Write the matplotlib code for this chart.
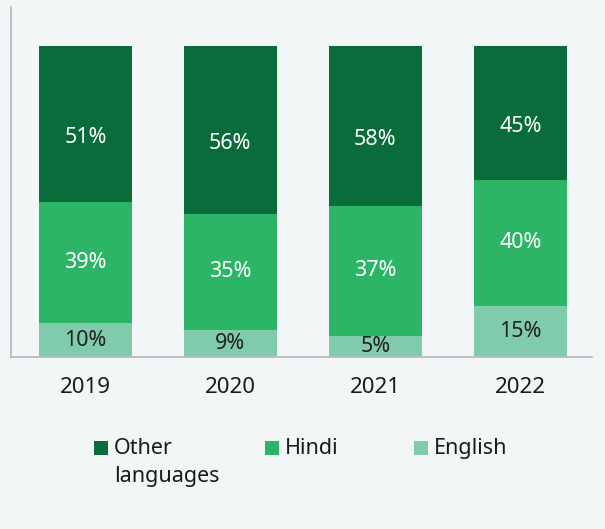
import matplotlib
matplotlib.use("Agg")
import matplotlib.pyplot as plt
from matplotlib.patches import Rectangle

# Data
years = ["2019", "2020", "2021", "2022"]
english = [10.9, 8.7, 6.8, 16.4]
hindi = [38.9, 37.3, 41.8, 40.5]
other = [50.2, 54.0, 51.4, 43.1]
# printed labels (as shown on the chart)
english_lbl = [10, 9, 5, 15]
hindi_lbl = [39, 35, 37, 40]
other_lbl = [51, 56, 58, 45]

series_names = ["Other\nlanguages", "Hindi", "English"]
c_other = "#0a6b3b"
c_hindi = "#2db567"
c_eng = "#7fcbac"
bg = "#f3f6f7"

plt.rcParams["font.family"] = ["Noto Sans", "DejaVu Sans"]

fig = plt.figure(figsize=(6.05, 5.29), dpi=100, facecolor=bg)
ax = fig.add_axes([0.019, 0.325, 0.959, 0.662], facecolor=bg)

x = range(len(years))
w = 0.64
bottom2 = [e + h for e, h in zip(english, hindi)]
ax.bar(x, english, w, color=c_eng)
ax.bar(x, hindi, w, bottom=english, color=c_hindi)
ax.bar(x, other, w, bottom=bottom2, color=c_other)

# Percent labels inside each segment
for i in x:
    ax.text(i, english[i] / 2, f"{english_lbl[i]}%", ha="center", va="center",
            color="#222222", fontsize=15.5)
    ax.text(i, english[i] + hindi[i] / 2, f"{hindi_lbl[i]}%", ha="center", va="center",
            color="white", fontsize=15.5)
    ax.text(i, bottom2[i] + other[i] / 2 - 4.5, f"{other_lbl[i]}%", ha="center", va="center",
            color="white", fontsize=15.5)

ax.set_xlim(-0.51, 3.493)
ax.set_ylim(0, 112.5)
ax.set_xticks(list(x))
ax.set_xticklabels(years, fontsize=16, color="#1a1a1a")
ax.tick_params(axis="x", length=0, pad=14.5)
ax.set_yticks([])
for s in ["top", "right"]:
    ax.spines[s].set_visible(False)
for s in ["left", "bottom"]:
    ax.spines[s].set_color("#b8bcc0")
    ax.spines[s].set_linewidth(1.3)

# Legend drawn by hand to match the column placement
legend_items = [(c_other, series_names[0], 94), (c_hindi, series_names[1], 265),
                (c_eng, series_names[2], 414)]
W, H = 605, 529
for col, name, px in legend_items:
    fig.patches.append(Rectangle((px / W, 1 - 455 / H), 14 / W, 14 / H,
                                 transform=fig.transFigure, facecolor=col,
                                 edgecolor="none"))
    fig.text((px + 20) / W, 1 - 438 / H, name, ha="left", va="top",
             fontsize=15.5, color="#1a1a1a", linespacing=1.45)

fig.savefig("out.png", dpi=100, facecolor=bg)
